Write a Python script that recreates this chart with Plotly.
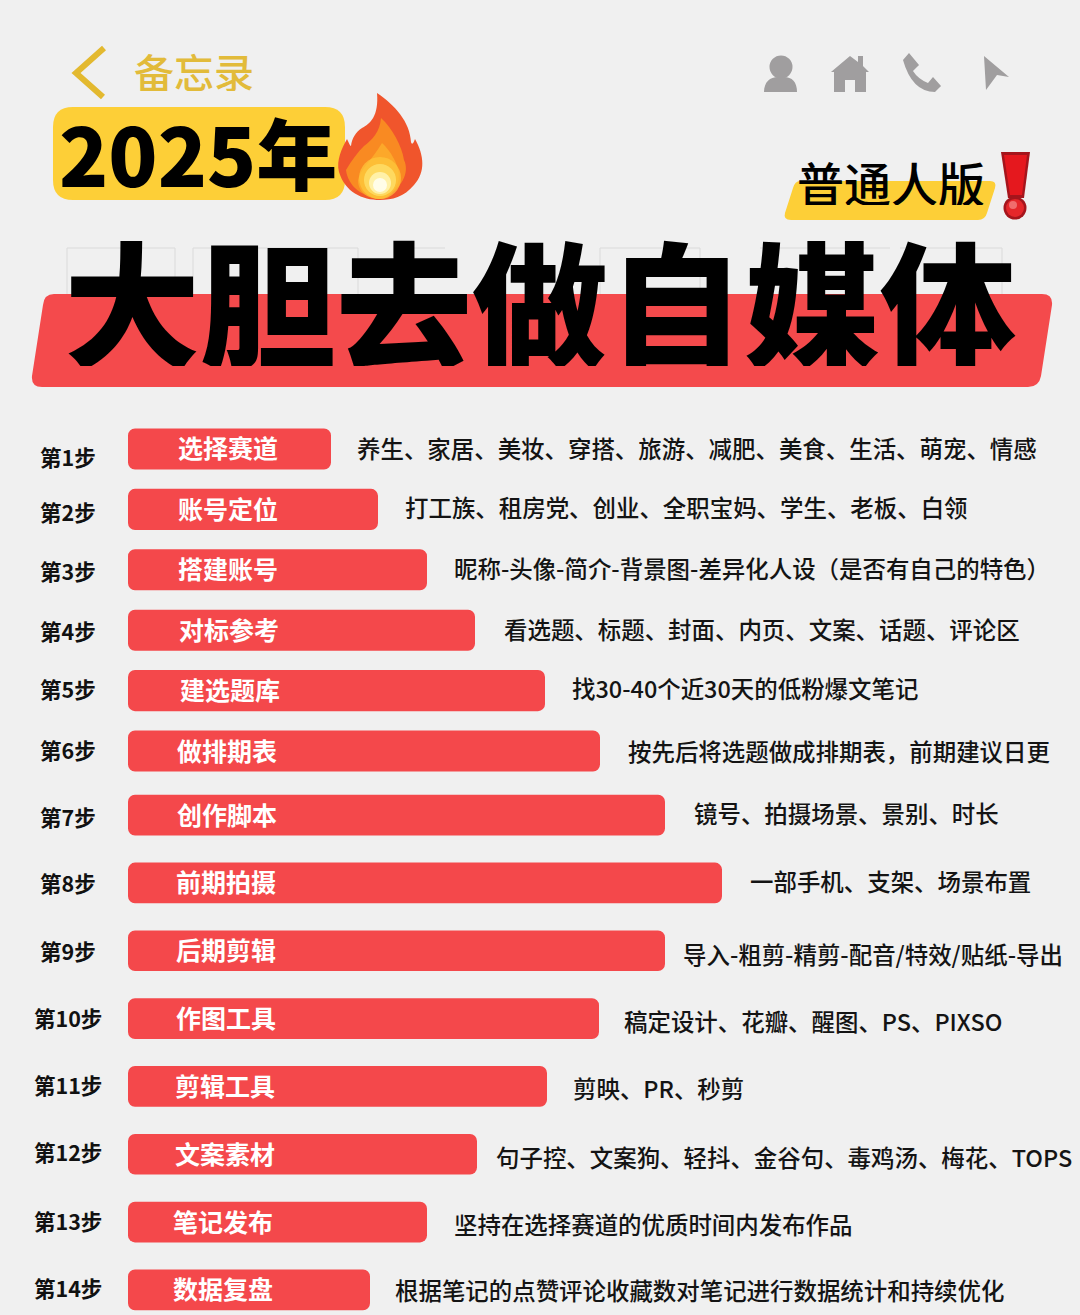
import re
import plotly.graph_objects as go

W, H = 1080, 1315
FONT = "Noto Sans CJK SC"

# chart data
steps = ["第1步", "第2步", "第3步", "第4步", "第5步", "第6步", "第7步",
         "第8步", "第9步", "第10步", "第11步", "第12步", "第13步", "第14步"]
step_names = ["选择赛道", "账号定位", "搭建账号", "对标参考", "建选题库", "做排期表", "创作脚本",
              "前期拍摄", "后期剪辑", "作图工具", "剪辑工具", "文案素材", "笔记发布", "数据复盘"]
bar_values = [203, 250, 299, 347, 417, 472, 537, 594, 537, 471, 419, 349, 299, 242]
descriptions = [
    "养生、家居、美妆、穿搭、旅游、减肥、美食、生活、萌宠、情感",
    "打工族、租房党、创业、全职宝妈、学生、老板、白领",
    "昵称-头像-简介-背景图-差异化人设（是否有自己的特色）",
    "看选题、标题、封面、内页、文案、话题、评论区",
    "找30-40个近30天的低粉爆文笔记",
    "按先后将选题做成排期表，前期建议日更",
    "镜号、拍摄场景、景别、时长",
    "一部手机、支架、场景布置",
    "导入-粗剪-精剪-配音/特效/贴纸-导出",
    "稿定设计、花瓣、醒图、PS、PIXSO",
    "剪映、PR、秒剪",
    "句子控、文案狗、轻抖、金谷句、毒鸡汤、梅花、TOPS",
    "坚持在选择赛道的优质时间内发布作品",
    "根据笔记的点赞评论收藏数对笔记进行数据统计和持续优化",
]

# small per-row nudges, the picture is not quite regular
desc_gap = [24, 25, 25, 27, 25, 26, 27, 26, 16, 23, 24, 17, 25, 23]
desc_lift = [1, 2, 2, 1, 3, 0, 2, 2, -3, -2, -2, -3, -2, 0]
step_shift = [-8, -2, -1, 0, 2, 2, -1, 0, 0, 1, 2, 3, 2, 2]
name_shift = [0, 0, 0, 1, 2, -1, -1, -2, -2, -2, -3, -3, -5, -5]

RED = "#f4484b"
YELLOW = "#fdcf37"
GREY = "#a09e9f"


def pth(s):
    # path written in picture pixels -> paper coordinates
    res, is_x = [], True
    for tok in re.findall(r"[A-Za-z]|-?\d+\.?\d*", s):
        if tok.isalpha():
            res.append(tok)
            is_x = True
        else:
            v = float(tok)
            res.append(f"{v / W:.5f}" if is_x else f"{1 - v / H:.5f}")
            is_x = not is_x
    return " ".join(res)


def fill(s, color, opacity=1):
    return dict(type="path", xref="paper", yref="paper", path=pth(s), fillcolor=color,
                line_width=0, opacity=opacity, layer="below")


def disc(cx, cy, r, color, opacity=1):
    return dict(type="circle", xref="paper", yref="paper", x0=(cx - r) / W, x1=(cx + r) / W,
                y0=1 - (cy + r) / H, y1=1 - (cy - r) / H, fillcolor=color, line_width=0,
                opacity=opacity, layer="below")


def label(x, y, text, size, color="black", weight=400):
    return dict(xref="paper", yref="paper", x=x / W, y=1 - y / H, text=text, showarrow=False,
                xanchor="center", yanchor="middle", height=size,
                font=dict(family=FONT, size=size, color=color, weight=weight))


shapes = [
    # faint outline behind the headline
    dict(type="path", xref="paper", yref="paper", layer="below", line=dict(color="#dadada", width=1),
         path=pth("M 67 294 L 67 248 L 175 248 L 175 294 M 193 294 L 193 248 L 358 248 L 358 294 "
                  "M 400 248 L 445 248 M 600 294 L 600 248 L 700 248 L 700 294 "
                  "M 760 248 L 890 248 M 900 248 L 1002 248 L 1002 294")),
    # back arrow
    dict(type="path", xref="paper", yref="paper", path=pth("M 104 48 L 76 73 L 103 97"),
         line=dict(color="#e3b92f", width=6), layer="below"),
    # 2025 badge
    fill("M 73 107 L 325 107 Q 345 107 345 127 L 345 180 Q 345 200 325 200 L 73 200 Q 53 200 53 180 L 53 127 Q 53 107 73 107 Z", YELLOW),
    # flame
    fill("M 377 93 C 395 105 410 122 411 142 C 412 146 414 142 415 139 C 424 155 426 172 414 185 C 404 197 392 200 380 200 "
         "C 362 200 345 192 339 172 C 336 160 342 148 347 139 C 349 143 350 146 351 146 C 352 138 356 132 362 128 C 370 124 379 116 377 93 Z", "#f0552c"),
    fill("M 381 118 C 392 128 402 146 404 160 C 410 172 402 190 382 198 C 362 198 348 186 346 170 C 352 160 358 152 364 146 C 372 140 380 132 381 118 Z", "#f98a22"),
    fill("M 382 143 C 392 152 402 170 398 182 C 394 194 386 199 380 199 C 368 199 358 192 358 180 C 360 170 372 160 382 143 Z", "#fca82a"),
    disc(380, 178, 21, "#fdc83c", 0.7),
    disc(380, 180, 16, "#fee06a", 0.8),
    disc(380, 183, 11, "#fff3b0", 0.9),
    disc(380, 185, 7, "#fffde8"),
    # slogan tag
    fill("M 800 181 L 990 181 Q 997 181 995 188 L 987 213 Q 985 220 978 220 L 791 220 Q 783 220 785 213 L 793 188 Q 795 181 800 181 Z", YELLOW),
    # exclamation mark
    fill("M 1001 152 L 1030 152 L 1024 198 L 1008 198 Z", "#a5151c"),
    fill("M 1004 155 L 1027 155 L 1022 195 L 1010 195 Z", "#e5181e"),
    disc(1015, 208, 11.5, "#a5151c"),
    disc(1015, 208, 9, "#e5262a"),
    disc(1013, 205, 4, "#f58a8a", 0.7),
    # top icons
    disc(781, 67, 11.5, GREY),
    fill("M 764 92 C 764 82 770 77 778 77 L 784 77 C 792 77 797 82 797 92 Z", GREY),
    fill("M 850 56 L 858 62 L 858 56 L 863 56 L 863 66 L 869 72 L 866 72 L 866 92 L 855 92 L 855 80 L 845 80 L 845 92 L 834 92 L 834 72 L 831 72 Z", GREY),
    fill("M 903 60 L 909 53 L 919 65 L 913 71 Q 918 79 928 83 L 933 77 L 941 86 L 935 92 Q 912 92 903 60 Z", GREY),
    fill("M 984 56 L 1009 77 L 997 75 L 986 90 Z", GREY),
    # red band behind the headline
    fill("M 54 294 L 1042 294 Q 1053 294 1052 305 L 1041 376 Q 1039 387 1028 387 L 42 387 Q 31 387 32 376 L 43 305 Q 44 294 54 294 Z", "#f44a4c"),
]

annotations = [
    label(194, 71, "备忘录", 40, "#e2bb3a", 500),
    label(198, 151, "2025年", 81, "black", 900),
    label(891, 182, "普通人版", 47, "black", 500),
    label(540, 298, "大胆去做自媒体", 136, "black", 900),
]

fig = go.Figure()

# the first six rows sit closer together than the rest, so two y axes
splits = [("y", "y", 0, 6, 0.68), ("y2", "y2", 6, 14, 0.6)]
for axis, ref, a, b, bar_w in splits:
    # setting base makes plotly round both ends of the bar
    fig.add_trace(go.Bar(x=bar_values[a:b], base=0, y=step_names[a:b], yaxis=axis, orientation="h",
                         width=bar_w, marker=dict(color=RED, cornerradius=7, line_width=0), showlegend=False))
    for i in range(a, b):
        annotations.append(dict(xref="paper", yref=ref, x=68 / W, y=step_names[i], yshift=step_shift[i],
                                text=steps[i], showarrow=False, xanchor="center",
                                font=dict(family=FONT, size=21.5, color="#111111", weight=700)))
        annotations.append(dict(xref="x", yref=ref, x=100, xshift=name_shift[i], yshift=1.5, y=step_names[i],
                                text=step_names[i], showarrow=False, xanchor="center",
                                font=dict(family=FONT, size=25, color="white", weight=700)))
        annotations.append(dict(xref="x", yref=ref, x=bar_values[i], xshift=desc_gap[i], yshift=desc_lift[i],
                                y=step_names[i], text=descriptions[i], showarrow=False, xanchor="left",
                                font=dict(family=FONT, size=23.45, color="#141414", weight=500)))

fig.update_layout(
    width=W, height=H,
    margin=dict(l=0, r=0, t=0, b=0),
    barmode="overlay",
    paper_bgcolor="#f0f0f0",
    plot_bgcolor="rgba(0,0,0,0)",
    shapes=shapes,
    annotations=annotations,
    xaxis=dict(domain=[128 / W, 1], range=[0, W - 128], visible=False),
    yaxis=dict(domain=[1 - 781.2 / H, 1 - 418.8 / H], range=[5.5, -0.5], type="category",
               categoryorder="array", categoryarray=step_names[:6], visible=False),
    yaxis2=dict(domain=[0, 1 - 781.2 / H], range=[7.37, -0.5], type="category", anchor="x",
                categoryorder="array", categoryarray=step_names[6:], visible=False),
)

# browser default body margin would shift everything by 8px
fig.write_html("out.html", config={"displayModeBar": False},
               post_script="document.body.style.margin='0';document.body.style.background='#f0f0f0';")
